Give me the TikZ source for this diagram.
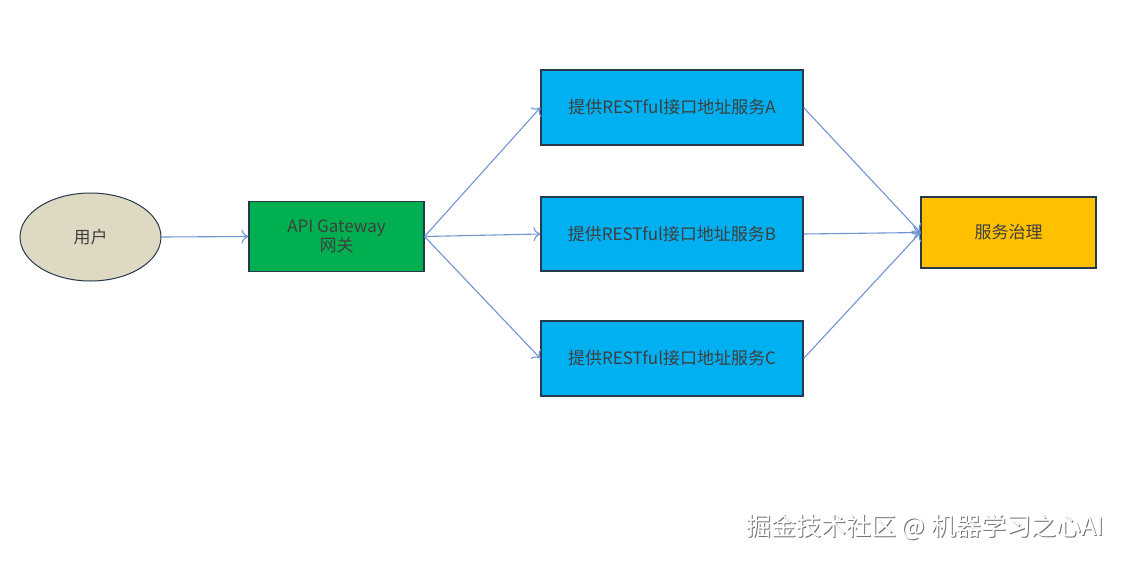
\documentclass[tikz,border=0pt]{standalone}
\usepackage{fontspec}
\setmainfont{Noto Sans CJK SC}
\usetikzlibrary{shapes.geometric,arrows.meta}
\definecolor{edgeblue}{HTML}{7094D2}
\definecolor{boxline}{HTML}{26384A}
\definecolor{txt}{HTML}{3F3F3F}
\definecolor{tan}{HTML}{DDD9C3}
\definecolor{grn}{HTML}{00B050}
\definecolor{cyanbox}{HTML}{00B0F0}
\definecolor{gold}{HTML}{FFC000}
\tikzset{
  box/.style={draw=boxline, line width=1.1pt, minimum width=#1, text=txt, font=\fontsize{17}{19}\selectfont, align=center, inner sep=0pt},
  link/.style={draw=edgeblue, line width=1.1pt, -{To[length=7pt,width=14pt]}},
}
\begin{document}
\begin{tikzpicture}[x=1pt,y=-1pt]
\useasboundingbox (0,0) rectangle (1122,560);
\node[ellipse, draw=boxline, line width=1pt, fill=tan, minimum width=141pt, minimum height=88pt, text=txt, font=\fontsize{17}{19}\selectfont, inner sep=0pt] (user) at (90.5,237) {用户};
\node[box=175pt, fill=grn, minimum height=70pt] (gw) at (336.5,236.5) {API Gateway\\网关};
\node[box=262pt, fill=cyanbox, minimum height=75pt] (sa) at (672,107.5) {提供RESTful接口地址服务A};
\node[box=262pt, fill=cyanbox, minimum height=74pt] (sb) at (672,234) {提供RESTful接口地址服务B};
\node[box=262pt, fill=cyanbox, minimum height=75pt] (sc) at (672,358.5) {提供RESTful接口地址服务C};
\node[box=175pt, fill=gold, minimum height=71pt] (gov) at (1008.5,232.5) {服务治理};
\draw[link] (user.east) -- (gw.west);
\draw[link] (gw.east) -- (sa.west);
\draw[link] (gw.east) -- (sb.west);
\draw[link] (gw.east) -- (sc.west);
\draw[link] (sa.east) -- (gov.west);
\draw[link] (sb.east) -- (gov.west);
\draw[link] (sc.east) -- (gov.west);
\node[text=black!55, font=\fontsize{25}{28}\selectfont, inner sep=0pt] (wmshadow) at (926,528) {掘金技术社区 @ 机器学习之心AI};
\node[text=white, font=\fontsize{25}{28}\selectfont, inner sep=0pt] (wm) at (925,527) {掘金技术社区 @ 机器学习之心AI};
\end{tikzpicture}
\end{document}
